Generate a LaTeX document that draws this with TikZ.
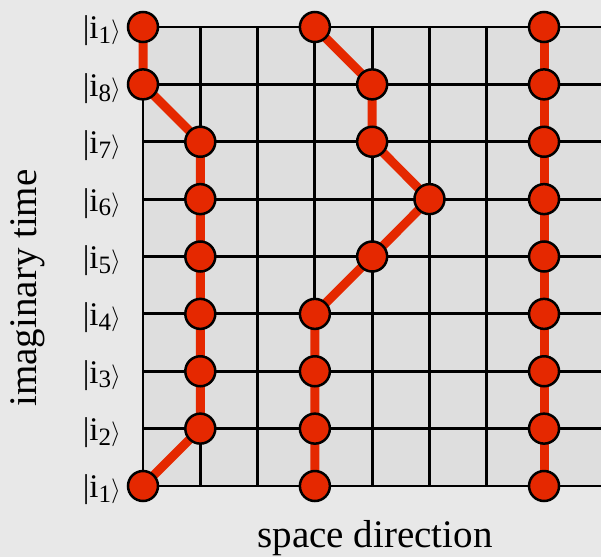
\documentclass[tikz,border=0pt]{standalone}
\usepackage{fontspec}
\setmainfont{Liberation Serif}
\definecolor{bgc}{RGB}{232,232,232}
\definecolor{gridc}{RGB}{222,222,222}
\definecolor{wred}{RGB}{229,40,0}
\newcommand{\ketlab}[1]{|i\raisebox{-0.32ex}{\fontsize{25}{25}\selectfont #1}$\rangle$}
\tikzset{
  site/.style={circle, draw=black, line width=2.5pt, fill=wred, minimum size=30pt, inner sep=0pt},
  wline/.style={draw=wred, line width=9pt},
  gline/.style={draw=black, line width=2.8pt},
  lab/.style={anchor=east, inner sep=0pt, font=\fontsize{33}{38}\selectfont},
  axlab/.style={inner sep=0pt, font=\fontsize{39}{44}\selectfont}
}
\begin{document}
\begin{tikzpicture}[x=1pt,y=-1pt]
\useasboundingbox (0,0) rectangle (601,557);
\fill[bgc] (0,0) rectangle (601,557);
\fill[gridc] (143,27) rectangle (601,486);
\foreach \r in {0,...,8} {\draw[gline] (143,27+\r*57.375) -- (601,27+\r*57.375);}
\foreach \c in {0,...,7} {\draw[gline] (143+\c*57.29,27) -- (143+\c*57.29,486);}
\foreach \r/\c in {0/0,1/0,2/1,3/1,4/1,5/1,6/1,7/1,8/0} {\coordinate (a\r) at (143+\c*57.29,27+\r*57.375);}
\foreach \r/\c in {0/3,1/4,2/4,3/5,4/4,5/3,6/3,7/3,8/3} {\coordinate (b\r) at (143+\c*57.29,27+\r*57.375);}
\foreach \r in {0,...,8} {\coordinate (c\r) at (143+7*57.29,27+\r*57.375);}
\foreach \p in {a,b,c} {\draw[wline] (\p0) -- (\p1) -- (\p2) -- (\p3) -- (\p4) -- (\p5) -- (\p6) -- (\p7) -- (\p8);}
\foreach \p in {a,b,c} {\foreach \r in {0,...,8} {\node[site] (\p n\r) at (\p\r) {};}}
\foreach \r/\k in {0/1,1/8,2/7,3/6,4/5,5/4,6/3,7/2,8/1} {\node[lab] (l\r) at (121,31+\r*57.375) {\ketlab{\k}};}
\node[axlab, rotate=90] (yl) at (28,288) {imaginary time};
\node[axlab] (xl) at (375,538) {space direction};
\end{tikzpicture}
\end{document}
